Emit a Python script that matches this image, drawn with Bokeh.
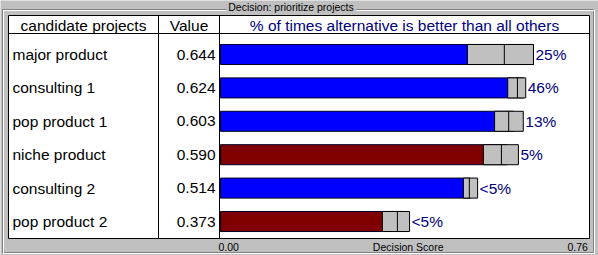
from bokeh.plotting import figure
from bokeh.models import Range1d, ColumnDataSource
from bokeh.core.properties import value
from bokeh.embed import file_html
from bokeh.resources import INLINE

# ---------------- data ----------------
chart_title = "Decision: prioritize projects"
projects = ["major product", "consulting 1", "pop product 1",
            "niche product", "consulting 2", "pop product 2"]
scores = [0.644, 0.624, 0.603, 0.590, 0.514, 0.373]
bar_colors = ["#0000ff", "#0000ff", "#0000ff", "#800000", "#0000ff", "#800000"]
range_low = [0.508, 0.591, 0.564, 0.541, 0.500, 0.333]
range_mid = [0.584, 0.611, 0.593, 0.578, 0.512, 0.364]
range_high = [0.644, 0.628, 0.623, 0.613, 0.529, 0.389]
pct_best = ["25%", "46%", "13%", "5%", "<5%", "<5%"]
col_headers = ["candidate projects", "Value",
               "% of times alternative is better than all others"]
axis_ticks = [0.00, 0.76]
axis_tick_labels = ["0.00", "0.76"]
axis_title = "Decision Score"

# ---------------- layout ----------------
W, H = 598, 255
X0 = 220.0          # pixel where score 0 sits
S = 486.0           # pixels per score unit
ROW0 = 54.0         # pixel centre of first row
ROWH = 33.4         # pixel spacing of rows
FONT = value("Liberation Sans")
NAVY = "#000080"
GRAY = "#c0c0c0"


def sx(px):
    return (px - X0) / S


def sy(py):
    return (py - ROW0) / ROWH


p = figure(width=W, height=H, output_backend="svg", toolbar_location=None,
           x_range=Range1d(sx(0), sx(W)), y_range=Range1d(sy(H), sy(0)),
           min_border=0, min_border_left=0, min_border_right=0,
           min_border_top=0, min_border_bottom=0)
p.axis.visible = False
p.grid.visible = False
p.outline_line_color = None
p.background_fill_color = GRAY
p.border_fill_color = GRAY

# etched group box
for off, col in ((0, "#808080"), (1, "#ffffff")):
    p.quad(left=sx(2 + off), right=sx(593 + off), top=sy(9 + off), bottom=sy(252 + off),
           fill_color=None, line_color=col, line_width=1)
# gap behind title
p.quad(left=sx(226), right=sx(356), top=sy(2), bottom=sy(13),
       fill_color=GRAY, line_color=None)
p.text(x=[sx(290.5)], y=[sy(6.5)], text=[chart_title], text_font=FONT,
       text_font_size="10.5px", text_align="center", text_baseline="middle",
       text_color="#000000")

# table body
p.quad(left=sx(8), right=sx(589), top=sy(15), bottom=sy(238),
       fill_color="#ffffff", line_color="#000000", line_width=1)
p.segment(x0=[sx(8)], x1=[sx(589)], y0=[sy(33)], y1=[sy(33)],
          line_color="#000000", line_width=1)
p.segment(x0=[sx(158), sx(219)], x1=[sx(158), sx(219)],
          y0=[sy(15), sy(15)], y1=[sy(238), sy(238)],
          line_color="#000000", line_width=1)

# headers
p.text(x=[sx(83), sx(188.5), sx(404)], y=[sy(24.5)] * 3, text=col_headers,
       text_font=FONT, text_font_size="15.5px", text_align="center",
       text_baseline="middle", text_color=["#000000", "#000000", NAVY])

idx = list(range(len(projects)))
src = ColumnDataSource(dict(
    y=idx, name=projects, score=scores,
    score_txt=["%.3f" % v for v in scores], color=bar_colors,
    lo=range_low, mid=range_mid, hi=range_high,
    y0=[i - 0.3 for i in idx], y1=[i + 0.3 for i in idx],
    lab_x=[max(a, b) for a, b in zip(scores, range_high)], pct=pct_best,
    name_x=[sx(12)] * len(idx), val_x=[sx(215)] * len(idx)))

p.text(x="name_x", y="y", text="name", source=src, text_font=FONT,
       text_font_size="15.5px", text_align="left", text_baseline="middle",
       text_color="#000000")
p.text(x="val_x", y="y", text="score_txt", source=src, text_font=FONT,
       text_font_size="15.5px", text_align="right", text_baseline="middle",
       text_color="#000000")

# bars
p.hbar(y="y", left=0, right="score", height=0.6, source=src,
       fill_color="color", line_color="#000020", line_width=1)
# uncertainty boxes
p.hbar(y="y", left="lo", right="hi", height=0.6, source=src,
       fill_color=GRAY, line_color="#000000", line_width=1)
p.segment(x0="mid", x1="mid", y0="y0", y1="y1", source=src,
          line_color="#000000", line_width=1)
p.text(x="lab_x", y="y", text="pct", source=src, x_offset=2, text_font=FONT,
       text_font_size="15.5px", text_align="left", text_baseline="middle",
       text_color=NAVY)

# bottom scale
p.text(x=[axis_ticks[0]], y=[sy(246.5)], text=[axis_tick_labels[0]], x_offset=-2,
       text_font=FONT, text_font_size="10.5px", text_align="left",
       text_baseline="middle", text_color="#000000")
p.text(x=[axis_ticks[1]], y=[sy(246.5)], text=[axis_tick_labels[1]], x_offset=-2,
       text_font=FONT, text_font_size="10.5px", text_align="right",
       text_baseline="middle", text_color="#000000")
p.text(x=[(axis_ticks[0] + axis_ticks[1]) / 2], y=[sy(246.5)], text=[axis_title],
       x_offset=3, text_font=FONT, text_font_size="10.5px", text_align="center",
       text_baseline="middle", text_color="#000000")

open("out.html", "w").write(file_html(p, INLINE))
